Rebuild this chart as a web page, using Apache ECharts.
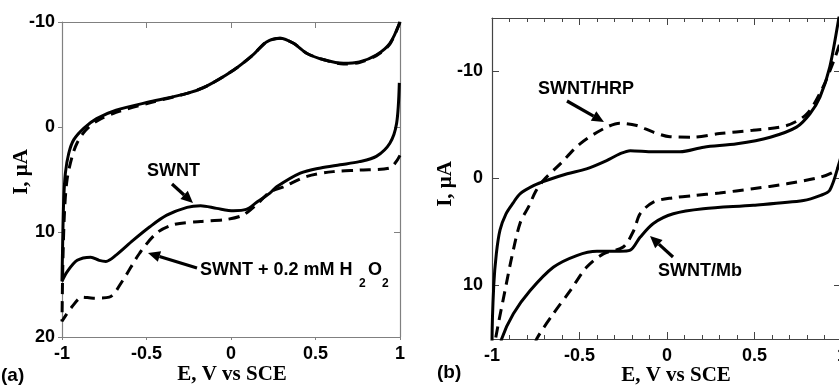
<!DOCTYPE html>
<html>
<head>
<meta charset="utf-8">
<script src="https://cdn.jsdelivr.net/npm/echarts@6/dist/echarts.min.js"></script>
<style>
  html, body { margin: 0; padding: 0; background: #fff; }
  #chart { width: 839px; height: 387px; }
</style>
</head>
<body>
<div id="chart"></div>
<script>
// panel (a): SWNT film, with and without H2O2  [E (V vs SCE), I (uA)]
const aSwnt = [
  [1.0, -10.0], [0.94, -7.97], [0.86, -6.86], [0.76, -6.2], [0.665, -6.06], [0.55, -6.4],
  [0.45, -7.0], [0.37, -7.97], [0.29, -8.45], [0.21, -8.1], [0.13, -6.86], [0.014, -5.4],
  [-0.144, -3.9], [-0.26, -3.2], [-0.48, -2.4], [-0.68, -1.6], [-0.795, -0.8], [-0.87, 0.1],
  [-0.93, 1.2], [-0.96, 2.5], [-0.98, 4.4], [-0.99, 7.0], [-0.996, 11.0], [-1.0, 14.7],
  [-0.97, 13.8], [-0.91, 12.7], [-0.83, 12.4], [-0.78, 12.7], [-0.74, 12.8], [-0.68, 12.2],
  [-0.58, 10.8], [-0.48, 9.5], [-0.38, 8.4], [-0.26, 7.65], [-0.18, 7.5], [-0.085, 7.75],
  [0.014, 7.97], [0.09, 7.85], [0.15, 7.2], [0.23, 6.3], [0.27, 5.7], [0.41, 4.4],
  [0.53, 3.9], [0.645, 3.6], [0.76, 3.3], [0.86, 2.8], [0.94, 1.55], [0.98, -0.35], [0.996, -4.2]
];
const aSwntH2o2 = [
  [1.0, -10.0], [0.94, -7.9], [0.86, -6.8], [0.76, -6.15], [0.665, -6.0], [0.55, -6.4],
  [0.45, -7.0], [0.37, -7.97], [0.29, -8.45], [0.21, -8.1], [0.13, -6.86], [0.014, -5.4],
  [-0.144, -3.9], [-0.26, -3.2], [-0.48, -2.3], [-0.68, -1.4], [-0.79, -0.6], [-0.86, 0.3],
  [-0.91, 1.5], [-0.94, 2.8], [-0.97, 5.0], [-0.985, 8.0], [-0.995, 13.0], [-1.0, 18.5],
  [-0.94, 17.1], [-0.88, 16.2], [-0.815, 16.3], [-0.72, 16.2], [-0.64, 14.6], [-0.54, 12.0],
  [-0.44, 10.1], [-0.34, 9.3], [-0.18, 9.0], [-0.025, 8.8], [0.07, 8.4], [0.15, 7.4],
  [0.23, 6.2], [0.31, 5.7], [0.45, 4.7], [0.605, 4.25], [0.76, 4.1], [0.94, 3.9], [1.0, 2.7]
];

// panel (b): SWNT/Mb (solid) and SWNT/HRP (dashed)
const bMb = [
  [0.99, -16.0], [0.983, -15.1], [0.93, -10.4], [0.874, -7.6], [0.817, -6.05], [0.74, -4.8],
  [0.59, -3.86], [0.40, -3.24], [0.21, -2.93], [0.074, -2.5], [-0.078, -2.5], [-0.21, -2.6],
  [-0.27, -2.3], [-0.345, -1.68], [-0.46, -0.9], [-0.57, -0.44], [-0.69, 0.19], [-0.76, 0.65],
  [-0.84, 1.43], [-0.88, 2.3], [-0.92, 3.3], [-0.954, 4.8], [-0.975, 7.0], [-0.99, 10.0],
  [-1.0, 15.5], [-0.96, 16.5], [-0.945, 15.0], [-0.878, 12.65], [-0.783, 10.5], [-0.65, 8.3],
  [-0.516, 7.2], [-0.40, 6.8], [-0.27, 6.8], [-0.21, 6.7], [-0.154, 5.5], [-0.078, 4.2],
  [0.036, 3.3], [0.207, 2.83], [0.493, 2.5], [0.78, 2.06], [0.874, 1.6], [0.93, 1.1],
  [0.983, -1.4], [1.0, -2.5]
];
const bHrp = [
  [0.985, -12.5], [0.96, -11.3], [0.89, -8.5], [0.80, -6.05], [0.684, -4.95], [0.49, -4.5],
  [0.30, -4.2], [0.15, -3.86], [0.017, -3.9], [-0.078, -4.33], [-0.173, -4.95], [-0.27, -5.17],
  [-0.364, -4.64], [-0.497, -3.24], [-0.61, -1.37], [-0.707, 0.19], [-0.75, 1.2], [-0.79, 2.6],
  [-0.84, 4.2], [-0.887, 7.35], [-0.926, 10.5], [-0.964, 13.6], [-0.99, 16.0],
  [-0.77, 16.2], [-0.745, 15.0], [-0.65, 12.65], [-0.554, 10.5], [-0.46, 8.3], [-0.364, 7.04],
  [-0.25, 6.4], [-0.19, 4.86], [-0.154, 3.3], [-0.078, 2.2], [0.036, 1.8], [0.15, 1.6],
  [0.30, 1.35], [0.49, 0.96], [0.684, 0.5], [0.874, -0.12], [0.95, -0.6], [0.983, -1.06]
];

const aYTicks = [-10, 0, 10, 20];
const bYTicks = [-10, 0, 10];

const SANS = '"Liberation Sans", Arial, sans-serif';
const SERIF = '"Liberation Serif", "Times New Roman", serif';
const tickLabel = { color: '#000', fontFamily: SANS, fontWeight: 'bold', fontSize: 18 };

const chart = echarts.init(document.getElementById('chart'), null, { renderer: 'canvas' });

function frameLine(c) {
  return { show: true, onZero: false, lineStyle: { color: c, width: 1.2 } };
}

function arrow(x1, y1, x2, y2) {
  const ang = Math.atan2(y2 - y1, x2 - x1);
  const L = 12, W = 5.5;
  const bx = x2 - L * Math.cos(ang), by = y2 - L * Math.sin(ang);
  const px = -Math.sin(ang), py = Math.cos(ang);
  return [
    { type: 'line', z: 100, shape: { x1: x1, y1: y1, x2: bx, y2: by },
      style: { stroke: '#000', lineWidth: 3.2 } },
    { type: 'polygon', z: 100,
      shape: { points: [[x2, y2], [bx + W * px, by + W * py], [bx - W * px, by - W * py]] },
      style: { fill: '#000' } }
  ];
}

function txt(x, y, text, font, align, rotation) {
  return {
    type: 'text', z: 100, x: x, y: y, rotation: rotation || 0,
    style: { text: text, font: font, fill: '#000',
      align: align || 'left', verticalAlign: 'middle' }
  };
}

const labFont = 'bold 18px ' + SANS;
const subFont = 'bold 12px ' + SANS;
const titleFont = 'bold 21px ' + SERIF;

const option = {
  animation: false,
  backgroundColor: '#fff',
  grid: [
    { left: 62, top: 22, width: 338, height: 315, outerBoundsMode: 'none' },
    { left: 492, top: 18, width: 350, height: 321, outerBoundsMode: 'none' }
  ],
  xAxis: [
    { type: 'value', gridIndex: 0, min: -1, max: 1, interval: 0.5, position: 'bottom',
      axisLine: frameLine('#808080'),
      axisTick: { show: true, inside: false, length: 3, lineStyle: { color: '#808080' } },
      axisLabel: Object.assign({ margin: 8 }, tickLabel),
      splitLine: { show: false } },
    { type: 'value', gridIndex: 0, min: -1, max: 1, interval: 0.5, position: 'top',
      axisLine: frameLine('#808080'),
      axisTick: { show: true, inside: true, length: 6, lineStyle: { color: '#808080' } },
      axisLabel: { show: false }, splitLine: { show: false } },
    { type: 'value', gridIndex: 1, min: -1, max: 1, interval: 0.5, position: 'bottom',
      axisLine: frameLine('#444'),
      axisTick: { show: true, inside: true, length: 7, lineStyle: { color: '#444' } },
      minorTick: { show: true, splitNumber: 5, length: 4, lineStyle: { color: '#444' } },
      axisLabel: Object.assign({ margin: 8 }, tickLabel),
      splitLine: { show: false } },
    { type: 'value', gridIndex: 1, min: -1, max: 1, interval: 0.5, position: 'top',
      axisLine: frameLine('#444'),
      axisTick: { show: true, inside: true, length: 7, lineStyle: { color: '#444' } },
      minorTick: { show: true, splitNumber: 5, length: 4, lineStyle: { color: '#444' } },
      axisLabel: { show: false }, splitLine: { show: false } }
  ],
  yAxis: [
    { type: 'value', gridIndex: 0, min: -10, max: 20, interval: 10, inverse: true, position: 'left',
      axisLine: frameLine('#808080'),
      axisTick: { show: true, inside: false, length: 4, customValues: aYTicks, lineStyle: { color: '#808080' } },
      axisLabel: Object.assign({ margin: 7, customValues: aYTicks }, tickLabel),
      splitLine: { show: false } },
    { type: 'value', gridIndex: 0, min: -10, max: 20, interval: 10, inverse: true, position: 'right',
      axisLine: frameLine('#808080'),
      axisTick: { show: true, inside: true, length: 6, customValues: [0, 10], lineStyle: { color: '#808080' } },
      axisLabel: { show: false }, splitLine: { show: false } },
    { type: 'value', gridIndex: 1, min: -15, max: 15, inverse: true, position: 'left',
      axisLine: frameLine('#444'),
      axisTick: { show: true, inside: true, length: 7, customValues: bYTicks, lineStyle: { color: '#444' } },
      axisLabel: Object.assign({ margin: 9, customValues: bYTicks }, tickLabel),
      splitLine: { show: false } },
    { type: 'value', gridIndex: 1, min: -15, max: 15, inverse: true, position: 'right',
      axisLine: frameLine('#444'),
      axisTick: { show: true, inside: true, length: 8, customValues: bYTicks, lineStyle: { color: '#444' } },
      axisLabel: { show: false }, splitLine: { show: false } }
  ],
  series: [
    { name: 'SWNT', type: 'line', xAxisIndex: 0, yAxisIndex: 0, data: aSwnt,
      showSymbol: false, smooth: 0.3, clip: true,
      lineStyle: { color: '#000', width: 3 } },
    { name: 'SWNT + 0.2 mM H2O2', type: 'line', xAxisIndex: 0, yAxisIndex: 0, data: aSwntH2o2,
      showSymbol: false, smooth: 0.3, clip: true,
      lineStyle: { color: '#000', width: 3, type: [11, 7] } },
    { name: 'SWNT/Mb', type: 'line', xAxisIndex: 2, yAxisIndex: 2, data: bMb,
      showSymbol: false, smooth: 0.3, clip: true,
      lineStyle: { color: '#000', width: 3 } },
    { name: 'SWNT/HRP', type: 'line', xAxisIndex: 2, yAxisIndex: 2, data: bHrp,
      showSymbol: false, smooth: 0.3, clip: true,
      lineStyle: { color: '#000', width: 3, type: [11, 7] } }
  ],
  graphic: [
    // axis titles and panel tags
    txt(232, 375, 'E, V vs SCE', titleFont, 'center'),
    txt(676, 376, 'E, V vs SCE', titleFont, 'center'),
    txt(22, 172, 'I, \u03bcA', titleFont, 'center', Math.PI / 2),
    txt(446, 184, 'I, \u03bcA', titleFont, 'center', Math.PI / 2),
    txt(1, 376, '(a)', 'bold 19px ' + SANS, 'left'),
    txt(437, 373, '(b)', 'bold 19px ' + SANS, 'left'),
    // annotations
    txt(147, 171, 'SWNT', labFont, 'left'),
    txt(200, 270, 'SWNT + 0.2 mM H', labFont, 'left'),
    txt(359, 284, '2', subFont, 'left'),
    txt(368, 270, 'O', labFont, 'left'),
    txt(382, 284, '2', subFont, 'left'),
    txt(538, 89, 'SWNT/HRP', labFont, 'left'),
    txt(658, 271, 'SWNT/Mb', labFont, 'left')
  ].concat(
    arrow(172, 184, 193, 203),
    arrow(197, 268, 148, 253),
    arrow(567, 101, 604, 122),
    arrow(673, 257, 650, 236)
  )
};

chart.setOption(option);
</script>
</body>
</html>
